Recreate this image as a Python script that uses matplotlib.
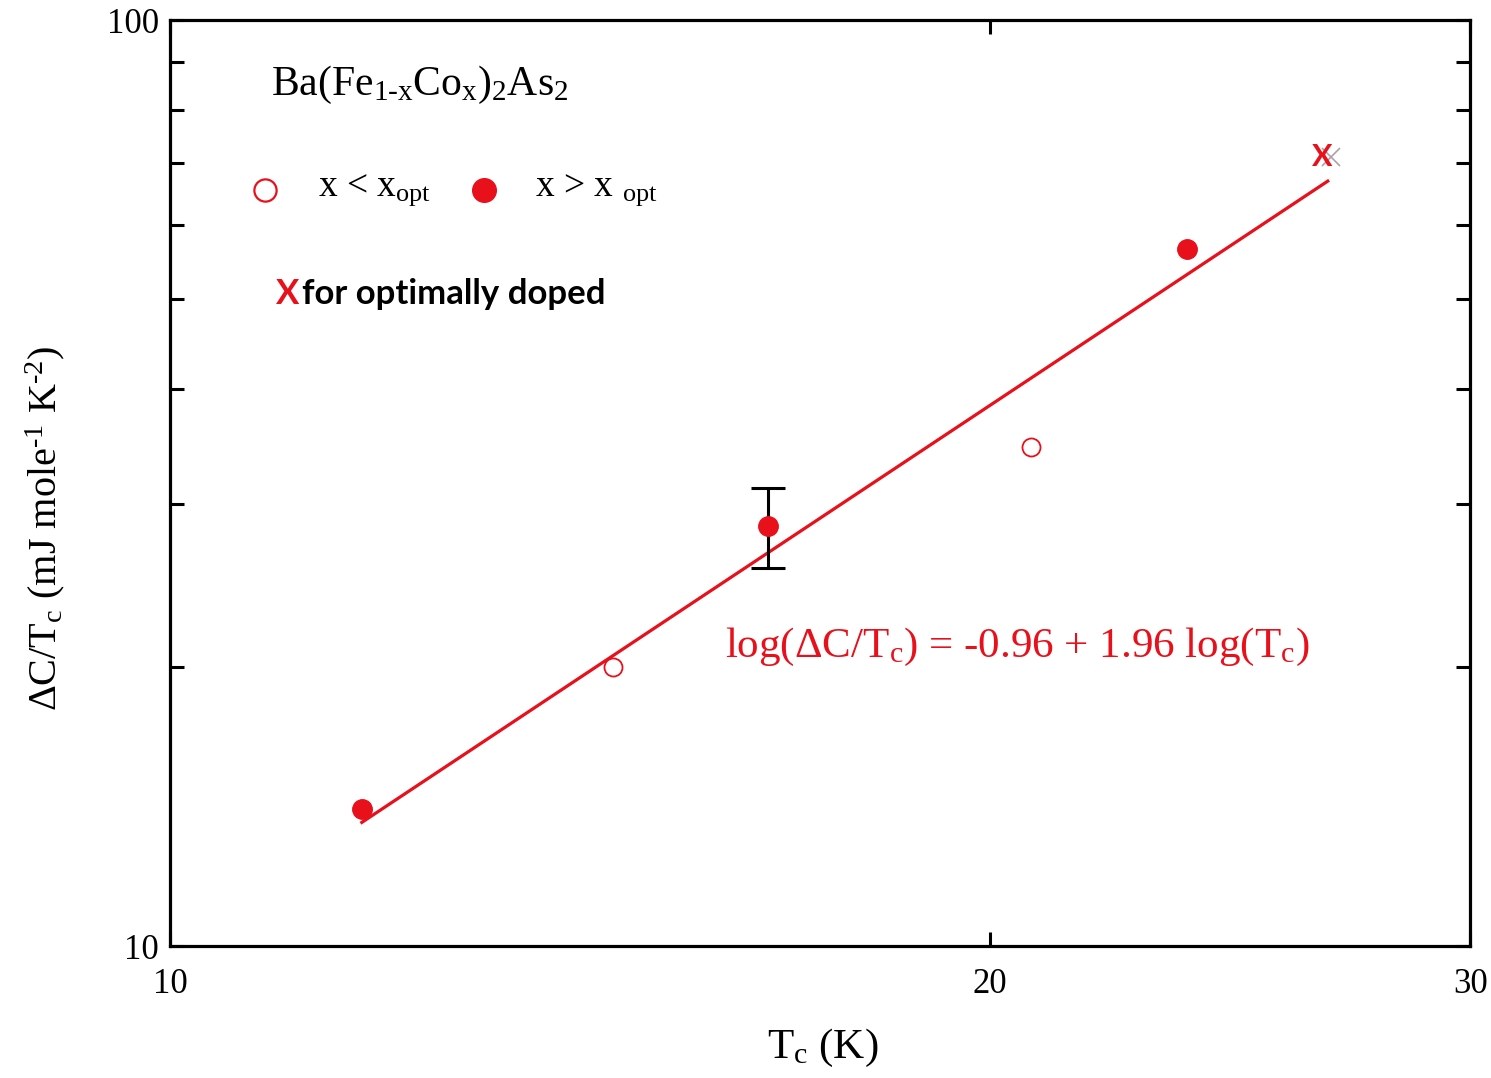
import matplotlib
matplotlib.use("Agg")
import matplotlib.pyplot as plt
from matplotlib.ticker import FixedLocator, NullFormatter

plt.rcParams['font.family'] = ['Liberation Serif', 'DejaVu Serif']
plt.rcParams['mathtext.fontset'] = 'custom'
plt.rcParams['mathtext.rm'] = 'Liberation Serif'
plt.rcParams['mathtext.it'] = 'Liberation Serif:italic'

# Data
under_tc = [14.54, 20.70]          # x < x_opt (open)
under_dc = [20.0, 34.6]
over_tc = [11.76, 16.58, 23.62]    # x > x_opt (filled)
over_dc = [14.06, 28.4, 56.6]
err_tc = [16.58]
err_lo = [25.6]
err_hi = [31.2]
opt_tc = [26.47]
opt_dc = [71.1]
fit_tc = [11.76, 26.6]
fit_dc = [13.6, 67.0]
x_ticks = [10, 20, 30]
y_ticks = [10, 100]
y_minor = [20, 30, 40, 50, 60, 70, 80, 90]

red = '#e8101a'

fig = plt.figure(figsize=(14.91, 10.78), dpi=100)
ax = fig.add_axes([0.114, 0.1224, 0.872, 0.8590])
ax.set_xscale('log')
ax.set_yscale('log')
ax.set_xlim(10, 30)
ax.set_ylim(10, 100)

ax.plot(fit_tc, fit_dc, color=red, lw=2.3, zorder=2)
mid = [(lo + hi) / 2 for lo, hi in zip(err_lo, err_hi)]
ax.errorbar(err_tc, mid, yerr=[[m - lo for m, lo in zip(mid, err_lo)], [hi - m for m, hi in zip(mid, err_hi)]],
            fmt='none', ecolor='black', elinewidth=2.2, capsize=12, capthick=2.2, zorder=3)
ax.plot(under_tc, under_dc, 'o', ms=13, mfc='white', mec=red, mew=1.3, ls='none', zorder=4)
ax.plot(over_tc, over_dc, 'o', ms=14, mfc=red, mec=red, ls='none', zorder=4)
ax.plot([t * 1.008 for t in opt_tc], opt_dc, 'x', ms=13, color='#b0a0a8', mew=1.2, zorder=4)
for t, d in zip(opt_tc, opt_dc):
    ax.text(t, d, 'X', color=red, fontsize=22, fontweight='bold', family=['Lato', 'DejaVu Sans'],
            ha='center', va='center', zorder=5)

# axes styling
for s in ax.spines.values():
    s.set_linewidth(2.3)
ax.xaxis.set_major_locator(FixedLocator(x_ticks))
ax.xaxis.set_minor_locator(FixedLocator([]))
ax.set_xticklabels([str(v) for v in x_ticks])
ax.yaxis.set_major_locator(FixedLocator(y_ticks))
ax.yaxis.set_minor_locator(FixedLocator(y_minor))
ax.yaxis.set_minor_formatter(NullFormatter())
ax.set_yticklabels([str(v) for v in y_ticks])
ax.tick_params(which='both', direction='in', top=True, right=True, length=10, width=2.2,
               labelsize=25)
ax.tick_params(axis='x', pad=16)
ax.tick_params(axis='y', pad=8)

ax.set_xlabel(r'T$_\mathrm{c}$ (K)', fontsize=31, va='center', ha='center')
ax.xaxis.set_label_coords(0.502, -0.110)
ax.set_ylabel(r'$\Delta$C/T$_\mathrm{c}$ (mJ mole$^\mathrm{\text{-}1}$ K$^\mathrm{\text{-}2}$)', fontsize=29,
              va='center', ha='center')
ax.yaxis.set_label_coords(-0.096, 0.451)

ax.text(0.078, 0.93, r'Ba(Fe$_\mathrm{1\text{-}x}$Co$_\mathrm{x}$)$_\mathrm{2}$As$_\mathrm{2}$',
        transform=ax.transAxes, fontsize=30, va='center', ha='left')

# legend (manual placement as in the original)
ax.plot([0.073], [0.816], 'o', transform=ax.transAxes, ms=16, mfc='white', mec=red, mew=1.6, clip_on=False)
ax.text(0.114, 0.816, r'x < x$_\mathrm{opt}$', transform=ax.transAxes, fontsize=27, va='center', ha='left')
ax.plot([0.2415], [0.816], 'o', transform=ax.transAxes, ms=17, mfc=red, mec=red, clip_on=False)
ax.text(0.281, 0.816, r'x > x $_\mathrm{opt}$', transform=ax.transAxes, fontsize=27, va='center', ha='left')

ax.text(0.0815, 0.704, 'X', transform=ax.transAxes, color=red, fontsize=25, fontweight='bold',
        family=['Lato', 'DejaVu Sans'], va='center', ha='left')
ax.text(0.1015, 0.704, 'for optimally doped', transform=ax.transAxes, color='black', fontsize=25,
        fontweight='bold', family=['Lato', 'DejaVu Sans'], va='center', ha='left')

ax.text(0.427, 0.323, r'log($\Delta$C/T$_\mathrm{c}$) = -0.96 + 1.96 log(T$_\mathrm{c}$)',
        transform=ax.transAxes, color=red, fontsize=31, va='center', ha='left')

fig.savefig('out.png', dpi=100)
